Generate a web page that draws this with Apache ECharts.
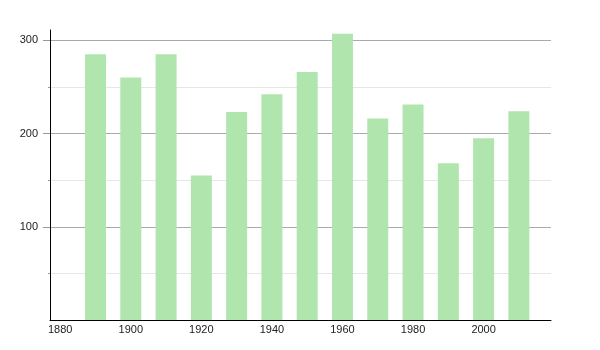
<!DOCTYPE html>
<html>
<head>
<meta charset="utf-8">
<script src="https://cdn.jsdelivr.net/npm/echarts@6/dist/echarts.min.js"></script>
<style>html,body{margin:0;padding:0;background:#fff}#c{width:600px;height:350px}</style>
</head>
<body>
<div id="c"></div>
<script>
const years = [1890, 1900, 1910, 1920, 1930, 1940, 1950, 1960, 1970, 1980, 1990, 2000, 2010];
const values = [285, 260, 285, 155, 223, 242, 266, 307, 216, 231, 168, 195, 224];
const xTickLabels = [1880, 1900, 1920, 1940, 1960, 1980, 2000];
const yMajorTicks = [100, 200, 300];
const yMinorTicks = [50, 150, 250];

const chart = echarts.init(document.getElementById('c'), null, {renderer: 'canvas'});
const font = {fontFamily: 'Liberation Sans, Arial, sans-serif', fontSize: 11, color: '#222'};
chart.setOption({
  animation: false,
  grid: {left: 50, right: 49, top: 30, bottom: 30, containLabel: false},
  xAxis: {
    type: 'value', min: 1877.1, max: 2019.1,
    axisLine: {show: true, onZero: false, lineStyle: {color: '#000', width: 1}},
    axisTick: {show: false},
    splitLine: {show: false},
    axisLabel: Object.assign({customValues: xTickLabels, margin: 4, formatter: v => String(v)}, font)
  },
  yAxis: [
    {
      type: 'value', min: 0, max: 311,
      axisLine: {show: true, lineStyle: {color: '#000', width: 1}},
      axisTick: {show: true, customValues: yMajorTicks, length: 7, lineStyle: {color: '#999'}},
      axisLabel: Object.assign({customValues: yMajorTicks, margin: 12}, font),
      splitLine: {show: true, lineStyle: {color: '#aaa', width: 1}}
    },
    {
      type: 'value', min: 0, max: 311, position: 'left',
      axisLine: {show: false},
      axisTick: {show: true, customValues: yMinorTicks, length: 2, lineStyle: {color: '#999'}},
      axisLabel: {show: false},
      splitLine: {show: true, lineStyle: {color: '#e6e6e6', width: 1}}
    }
  ],
  series: [{
    type: 'bar',
    yAxisIndex: 0,
    barWidth: 21,
    data: years.map((y, i) => [y, values[i]]),
    itemStyle: {color: '#b1e5ae'},
    z: 3
  }]
});
</script>
</body>
</html>
